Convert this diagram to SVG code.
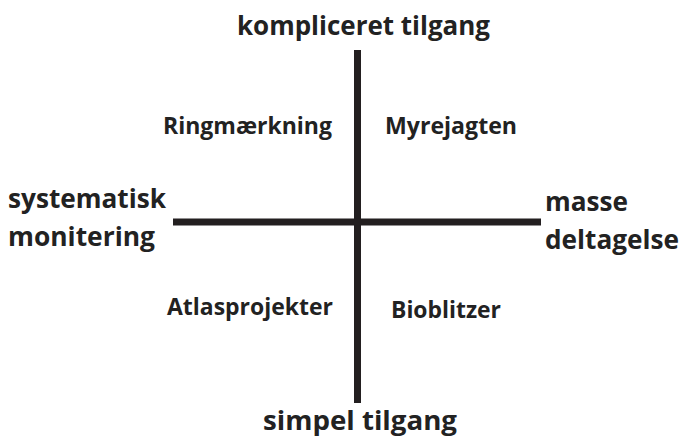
<svg xmlns="http://www.w3.org/2000/svg" width="682" height="438" viewBox="0 0 682 438">
<style>
.t{font-family:"Open Sans","Liberation Sans",sans-serif;font-weight:700;fill:#222;}
.big{font-size:27px;}
.mid{font-size:23px;}
.ax{stroke:#231f20;stroke-width:7;fill:none;}
</style>
<rect width="682" height="438" fill="#fff"/>
<g id="connectors">
<line class="ax" x1="357.5" y1="50" x2="357.5" y2="403"/>
<line class="ax" x1="173" y1="222" x2="541" y2="222"/>
</g>
<g id="top"><text class="t big" x="237" y="35" textLength="253" lengthAdjust="spacingAndGlyphs">kompliceret tilgang</text></g>
<g id="bottom"><text class="t big" x="263" y="430" textLength="194" lengthAdjust="spacingAndGlyphs">simpel tilgang</text></g>
<g id="left"><text class="t big" x="8" y="208" textLength="158" lengthAdjust="spacingAndGlyphs">systematisk</text><text class="t big" x="8" y="246" textLength="147" lengthAdjust="spacingAndGlyphs">monitering</text></g>
<g id="right"><text class="t big" x="545" y="211" textLength="83" lengthAdjust="spacingAndGlyphs">masse</text><text class="t big" x="545" y="249" textLength="134" lengthAdjust="spacingAndGlyphs">deltagelse</text></g>
<g id="ringmaerkning"><text class="t mid" x="163" y="134" textLength="169" lengthAdjust="spacingAndGlyphs">Ringmærkning</text></g>
<g id="myrejagten"><text class="t mid" x="385" y="134" textLength="132" lengthAdjust="spacingAndGlyphs">Myrejagten</text></g>
<g id="atlasprojekter"><text class="t mid" x="167" y="315" textLength="166" lengthAdjust="spacingAndGlyphs">Atlasprojekter</text></g>
<g id="bioblitzer"><text class="t mid" x="391" y="318" textLength="110" lengthAdjust="spacingAndGlyphs">Bioblitzer</text></g>
</svg>
